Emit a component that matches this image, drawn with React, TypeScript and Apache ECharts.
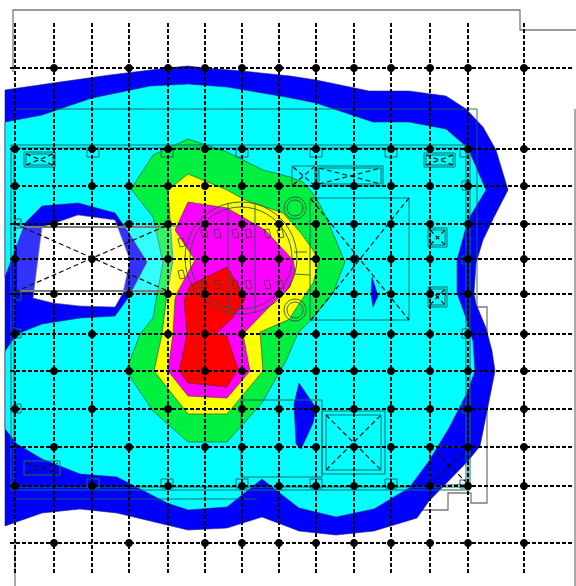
import React, { useEffect, useRef } from "react";
import * as echarts from "echarts";

type P = number[];
const W = 576, H = 586;

const gridXs = [15, 54, 92, 129, 168, 205, 242, 279, 316, 354, 391, 430, 468, 524];
const gridYs = [68, 149, 186, 224, 259, 294, 334, 371, 409, 447, 486, 543];
const nodesByRow: number[][] = [
  [54, 129, 168, 205, 242, 279, 316, 354, 391, 430, 468, 524],
  [15, 92, 168, 205, 242, 279, 316, 354, 391, 430, 468, 524],
  [15, 92, 129, 168, 205, 242, 279, 316, 354, 391, 430, 468, 524],
  [54, 129, 168, 205, 242, 279, 316, 354, 391, 430, 468, 524],
  [15, 92, 168, 205, 242, 279, 316, 354, 391, 430, 468, 524],
  [54, 129, 168, 205, 242, 279, 316, 354, 391, 430, 468, 524],
  [15, 92, 168, 205, 242, 279, 316, 354, 391, 430, 468, 524],
  [54, 129, 205, 242, 279, 316, 354, 391, 430, 468, 524],
  [15, 92, 168, 242, 279, 316, 354, 391, 430, 468, 524],
  [54, 129, 205, 242, 279, 316, 354, 391, 430, 468, 524],
  [15, 92, 168, 242, 279, 316, 354, 391, 430, 468, 524],
  [54, 129, 205, 242, 279, 316, 354, 391, 430, 468, 524],
];

const blueContour: P[] = [[5,90],[53,83],[110,75],[167,68],[188,66],[205,68],[242,71],[290,76],[316,80],[369,91],[409,91],[446,96],[466,109],[483,127],[496,150],[508,190],[494,217],[483,240],[476,263],[474,293],[476,304],[486,328],[492,351],[495,371],[489,401],[483,431],[480,446],[468,461],[429,501],[417,518],[374,531],[336,535],[299,531],[286,526],[262,517],[227,528],[188,530],[117,513],[80,509],[42,513],[5,526]];
const cyanContour: P[] = [[5,122],[42,115],[92,98],[150,86],[188,84],[227,87],[286,97],[316,103],[373,122],[409,122],[446,129],[468,148],[486,190],[468,220],[457,260],[457,293],[466,318],[473,341],[475,371],[468,391],[449,428],[429,461],[409,488],[374,509],[336,517],[299,508],[286,498],[262,479],[227,507],[188,510],[167,503],[117,477],[80,474],[42,459],[17,444],[5,429],[5,351],[17,334],[42,324],[80,318],[115,316],[128,298],[147,262],[127,230],[115,213],[78,203],[42,206],[25,223],[5,277]];
const holeContour: P[] = [[55,223],[78,215],[115,220],[130,260],[123,293],[115,307],[80,306],[53,303],[33,298],[42,227]];
const greenContour: P[] = [[188,139],[227,152],[263,170],[290,177],[303,182],[316,197],[326,217],[345,262],[333,293],[313,318],[298,333],[286,361],[280,371],[262,403],[227,442],[188,442],[153,411],[126,371],[140,334],[153,318],[157,294],[163,263],[153,217],[131,189],[153,155]];
const yellowContour: P[] = [[188,174],[227,190],[245,200],[283,213],[300,232],[313,250],[319,262],[313,283],[293,313],[290,319],[260,332],[263,371],[227,414],[188,414],[154,371],[162,334],[166,301],[173,260],[168,190]];
const magentaContour: P[] = [[188,202],[227,208],[265,230],[293,260],[295,270],[290,287],[278,298],[243,334],[250,371],[227,398],[188,396],[168,371],[173,334],[175,299],[177,293],[195,260],[175,230]];
const redContour: P[] = [[227,267],[246,298],[232,319],[215,334],[227,336],[238,369],[227,387],[188,383],[179,371],[187,334],[184,301],[190,285]];
const islandA: P[] = [[372,277],[378,296],[373,307],[371,294]];
const islandB: P[] = [[299,383],[316,408],[313,423],[301,449],[296,444],[294,404]];

const frameLines: P[][] = [
  [[13,72],[13,10],[520,10],[520,30],[576,30]],
  [[15,543],[15,586]],
  [[575,109],[575,586]],
  [[476,307],[487,307],[487,503],[471,503],[471,493],[448,493],[448,510],[257,510],[257,500]],
];
const thickGray: P[][] = [[[20,227],[170,227]], [[20,291],[170,291]]];
const tealRects: number[][] = [
  [24,152,55,167],[26,154,53,165],[292,166,315,186],[317,166,383,186],[319,168,381,184],
  [424,153,455,167],[426,155,453,165],[428,228,447,247],[430,230,445,245],[428,287,447,307],[430,289,445,305],
  [322,411,385,474],[326,415,381,470],[24,461,60,475],[310,198,409,320],[11,145,470,490],[14,148,466,487],
  [87,149,99,157],[161,149,173,157],[236,149,248,157],[310,149,322,157],[385,149,397,157],[460,149,468,157],
  [161,479,173,488],[236,479,248,488],[87,479,99,488],[310,479,322,488],[385,479,397,488],[460,480,468,488],
  [15,219,21,228],[15,291,21,300],[15,329,21,338],[15,404,21,413],[462,181,470,190],[462,256,470,264],[462,329,470,338],[462,404,470,413],
  [241,400,322,477],
];
const buildingLines: P[][] = [
  [[13,109],[477,109],[477,307]],
  [[16,499],[257,499]],
  [[430,446],[468,447],[468,484],[430,486],[430,446]],
  [[228,203],[228,313]],[[255,203],[255,313]],
  [[163,226],[180,226]],[[191,294],[178,294]],
  [[294,274],[310,275]],[[294,252],[307,252]],
];
const diagonals: P[][] = [
  [[15,224],[170,292]],[[15,292],[170,224]],
  [[311,199],[409,320]],[[409,198],[311,320]],
  [[26,154],[53,165]],[[26,165],[53,154]],
  [[293,167],[314,185]],[[293,185],[314,167]],
  [[319,168],[381,184]],[[319,184],[381,168]],
  [[426,165],[453,155]],[[426,155],[453,165]],
  [[430,230],[445,245]],[[430,245],[445,230]],
  [[430,289],[445,305]],[[430,305],[445,289]],
  [[326,415],[381,470]],[[326,470],[381,415]],
  [[26,463],[58,473]],[[26,473],[58,463]],
  [[430,446],[468,484]],[[468,447],[430,486]],
];
const columnCentres: P[] = [[204,234],[217,234],[235,234],[248,234],[267,234],[280,234],[204,285],[217,285],[235,285],[248,285],[267,285],[280,285],[181,243],[181,275]];
const rings: number[][] = [[241,258,56],[241,258,51],[295,208,11],[295,208,8],[295,310,11],[295,310,8]];

function areaSeries(points: P[], fill: string, stroke = "#333a33", lineWidth = 0.6): any {
  return {
    type: "custom", data: points, silent: true, clip: false,
    renderItem: (p: any, api: any) => p.dataIndex !== 0 ? null : ({
      type: "polygon",
      shape: { points: points.map((q) => api.coord(q)) },
      style: { fill, stroke, lineWidth },
    }),
  };
}
function linesSeries(paths: P[][], stroke: string, lineWidth: number, lineDash?: number[]): any {
  return {
    type: "custom", data: paths.map((_, i) => [paths[i][0][0], paths[i][0][1]]), silent: true, clip: false,
    renderItem: (p: any, api: any) => ({
      type: "polyline",
      shape: { points: paths[p.dataIndex].map((q) => api.coord(q)) },
      style: { fill: "none", stroke, lineWidth, lineDash },
    }),
  };
}
function rectPaths(r: number[][]): P[][] {
  return r.map(([a, b, c, d]) => [[a,b],[c,b],[c,d],[a,d],[a,b]]);
}

export default function App() {
  const ref = useRef<HTMLDivElement>(null);
  useEffect(() => {
    const chart = echarts.init(ref.current!, undefined, { renderer: "svg" });
    const verticals: P[][] = gridXs.map((x) => [[x, 23], [x, 575]]);
    const horizontals: P[][] = gridYs.map((y) => [[10, y], [573, y]]);
    const columns: P[][] = columnCentres.map(([x, y]) => [[x-3,y-4],[x+2,y-5],[x+4,y+3],[x-1,y+4],[x-3,y-4]]);
    const nodes = nodesByRow.flatMap((xs, i) => xs.map((x) => [x, gridYs[i]]));
    chart.setOption({
      animation: false,
      backgroundColor: "#ffffff",
      grid: { left: 0, right: 0, top: 0, bottom: 0 },
      xAxis: { type: "value", min: 0, max: W, show: false },
      yAxis: { type: "value", min: 0, max: H, inverse: true, show: false },
      series: [
        linesSeries(frameLines, "#7a7a7a", 1.3),
        areaSeries(blueContour, "#0000ff", "#202070"),
        areaSeries(cyanContour, "#00ffff", "#202070"),
        areaSeries(holeContour, "#ffffff", "#606060"),
        areaSeries(islandA, "#0000ff", "#202070"),
        areaSeries(islandB, "#0000ff", "#202070"),
        areaSeries(greenContour, "#00f040"),
        areaSeries(yellowContour, "#ffff00"),
        areaSeries(magentaContour, "#ff00ff"),
        areaSeries(redContour, "#ff0000"),
        {
          type: "custom", data: [[17, 226]], silent: true, clip: false,
          renderItem: (_: any, api: any) => {
            const a = api.coord([17, 226]), b = api.coord([175, 292]);
            return { type: "rect", shape: { x: a[0], y: a[1], width: b[0]-a[0], height: b[1]-a[1] }, style: { fill: "rgba(255,255,255,0.2)" } };
          },
        },
        linesSeries(thickGray, "#7a7a7a", 2),
        linesSeries(rectPaths(tealRects), "#0c6f6f", 1),
        linesSeries(buildingLines, "#1d5f5f", 0.9),
        linesSeries(columns, "#3a3a3a", 0.8),
        {
          type: "custom", data: rings.map((r) => [r[0], r[1]]), silent: true, clip: false,
          renderItem: (p: any, api: any) => {
            const [x, y, r] = rings[p.dataIndex];
            const c = api.coord([x, y]);
            return { type: "circle", shape: { cx: c[0], cy: c[1], r }, style: { fill: "none", stroke: "#2f4f3f", lineWidth: 0.9 } };
          },
        },
        linesSeries(diagonals, "#101010", 1.2, [5, 3]),
        linesSeries(verticals, "#000000", 1.9, [4, 2]),
        linesSeries(horizontals, "#000000", 1.9, [4, 2]),
        { type: "scatter", data: nodes, symbol: "circle", symbolSize: 8, itemStyle: { color: "#000000", opacity: 1 }, silent: true, clip: false },
      ],
    });
    return () => chart.dispose();
  }, []);
  return <div ref={ref} style={{ position: "absolute", left: 0, top: 0, width: W, height: H, filter: "blur(0.3px)" }} />;
}
